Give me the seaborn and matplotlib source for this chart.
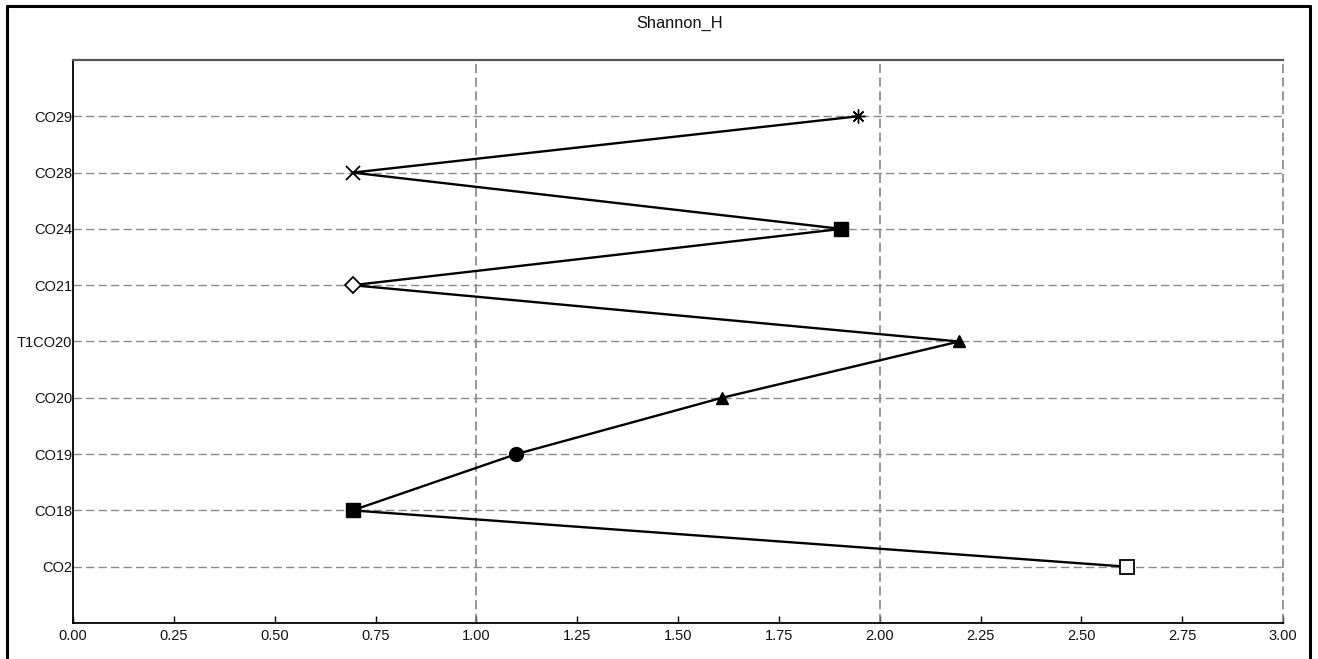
import matplotlib
matplotlib.use("Agg")
import matplotlib.pyplot as plt
import seaborn as sns
import numpy as np
import pandas as pd
from matplotlib.lines import Line2D

# Data (in drawing order, bottom to top)
categories = ["CO2", "CO18", "CO19", "CO20", "T1CO20", "CO21", "CO24", "CO28", "CO29"]
shannon_h = [2.613, 0.693, 1.099, 1.609, 2.197, 0.693, 1.905, 0.693, 1.946]
marker_shapes = ["s", "s", "o", "^", "^", "D", "s", "x", "*"]
marker_filled = [False, True, True, True, True, False, True, False, True]
x_ticks = [0.0, 0.25, 0.5, 0.75, 1.0, 1.25, 1.5, 1.75, 2.0, 2.25, 2.5, 2.75, 3.0]
title = "Shannon_H"

sns.set_theme(style="white")
plt.rcParams["font.family"] = ["Liberation Sans", "DejaVu Sans"]

W, H = 1318, 659
fig = plt.figure(figsize=(W / 100, H / 100), dpi=100)
ax = fig.add_axes([73 / W, 1 - 623 / H, (1283 - 73) / W, (623 - 60) / H])

df = pd.DataFrame({"cat": categories, "val": shannon_h, "pos": np.arange(len(categories))})

# gridlines
for xv in [1.0, 2.0, 3.0]:
    ax.axvline(xv, color="#7a7a7a", lw=1.1, ls=(0, (6, 3)), zorder=1, clip_on=False)
for p in df["pos"]:
    ax.axhline(p, color="#8a8a8a", lw=1.0, ls=(0, (6, 3)), zorder=1)

sns.lineplot(data=df, x="val", y="pos", sort=False, estimator=None, orient="y",
             color="black", lw=1.7, ax=ax, zorder=3)

sizes = {"s": 10, "o": 10, "^": 9, "D": 8.5, "x": 10, "*": 10}
for v, p, m, f in zip(df["val"], df["pos"], marker_shapes, marker_filled):
    if m == "x":
        ax.plot(v, p, marker="x", ms=sizes[m], mew=1.3, color="black", ls="none", zorder=4)
    elif m == "*":
        ax.plot(v, p, marker=(8, 2, 0), ms=sizes[m], mew=1.0, color="black", ls="none", zorder=4)
    elif f:
        ax.plot(v, p, marker=m, ms=sizes[m], color="black", mec="black", ls="none", zorder=4)
    else:
        ax.plot(v, p, marker=m, ms=sizes[m], mfc="white", mec="black", mew=1.3, ls="none", zorder=4)

ax.set_xlim(0, 3)
ax.set_ylim(-1, len(categories))
ax.set_xticks(x_ticks)
ax.set_xticklabels([f"{t:.2f}" for t in x_ticks])
ax.set_yticks(df["pos"])
ax.set_yticklabels(categories)
ax.set_xlabel("")
ax.set_ylabel("")
ax.tick_params(axis="x", direction="in", length=5, width=1, color="black", pad=4,
               labelsize=10.5, labelcolor="#111111", bottom=True)
ax.tick_params(axis="y", length=0, pad=0.5, labelsize=10.5, labelcolor="#111111", left=True)

for s in ["left", "bottom"]:
    ax.spines[s].set_visible(True)
    ax.spines[s].set_color("black")
    ax.spines[s].set_linewidth(1.3)
ax.spines["top"].set_color("#555555")
ax.spines["top"].set_linewidth(1.6)
ax.spines["right"].set_visible(False)

fig.text(680 / W, 1 - 23.5 / H, title, ha="center", va="center", fontsize=11.8, color="#111111")

# outer frame
frame_kw = dict(color="black", lw=2.2, transform=fig.transFigure)
fig.add_artist(Line2D([7 / W, 7 / W], [0, 1 - 6 / H], **frame_kw))
fig.add_artist(Line2D([7 / W, 1310 / W], [1 - 6 / H, 1 - 6 / H], **frame_kw))
fig.add_artist(Line2D([1310 / W, 1310 / W], [0, 1 - 6 / H], **frame_kw))

fig.savefig("out.png", dpi=100, facecolor="white")
